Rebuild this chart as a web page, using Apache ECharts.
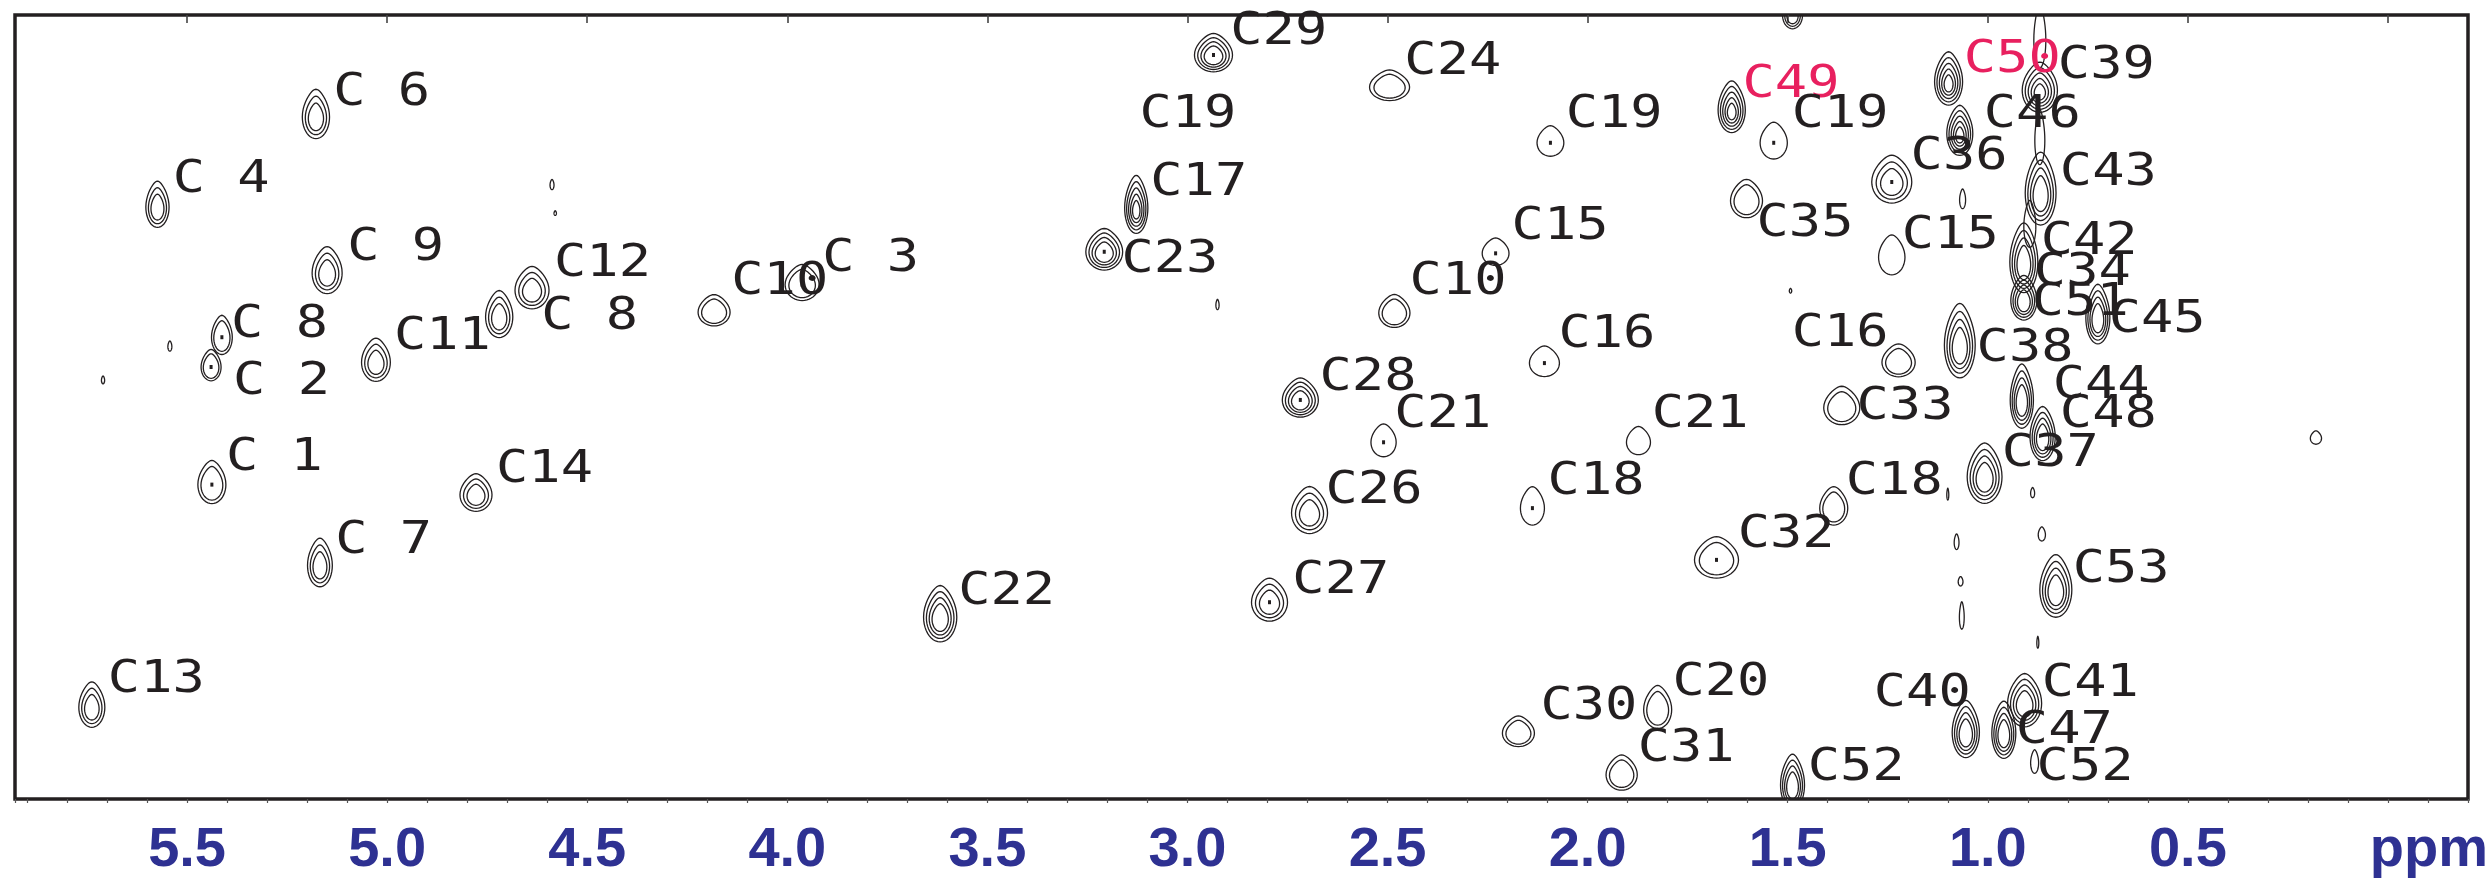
<!DOCTYPE html>
<html><head><meta charset="utf-8">
<script src="https://cdn.jsdelivr.net/npm/echarts@6/dist/echarts.min.js"></script>
<style>html,body{margin:0;padding:0;background:#fff}#c{width:2488px;height:880px}</style>
</head><body><div id="c"></div>
<script>
// ---- 1H (x, ppm) / 13C (y, relative F1 position, 0 = top) cross peaks ----
const peakPpm = [5.574,5.178,5.150,4.638,4.720,5.028,5.413,5.440,5.438,4.778,5.168,5.738,4.183,3.963,3.128,3.208,2.935,2.495,2.093,2.230,2.483,2.108,2.718,2.510,2.695,3.618,2.795,1.640,1.535,1.603,1.240,1.240,1.223,1.365,1.873,2.138,1.385,1.678,1.008,0.830,1.055,0.960,0.908,2.173,1.825,1.915,1.488,0.883,0.180,1.098,1.070,0.870,0.868,0.910,0.910,0.725,1.070,0.915,0.863,1.063,1.488,0.870,0.870,0.895,
  4.588,4.580,5.543,5.710,2.925,1.493,1.100,0.888,1.078,1.068,1.065,0.865,0.875];
const peakF1 = [24.5,13.0,32.9,35.1,38.5,44.3,41.1,44.9,59.9,61.2,70.2,88.3,37.9,34.4,24.6,30.2,5.1,9.2,16.3,30.4,38.0,44.4,49.1,54.5,63.5,76.8,74.9,12.1,16.3,23.7,21.3,30.9,44.3,50.1,54.5,62.9,62.9,69.5,58.9,73.3,91.5,91.6,87.8,91.6,88.6,96.9,98.2,95.4,54.0,8.5,15.1,9.6,22.7,31.5,36.4,38.6,42.1,49.1,53.8,23.6,0.0,3.2,16.0,27.0,
  21.7,25.3,42.3,46.6,37.0,35.2,61.2,61.0,67.3,72.3,76.8,66.3,80.1];
const peakLevels = [3,3,3,3,3,3,2,2,2,3,3,3,2,2,5,4,4,2,1,1,2,1,4,1,3,4,3,5,1,2,3,1,2,2,1,1,2,2,4,4,4,4,4,2,2,2,4,1,1,5,5,5,4,4,4,4,4,4,4,1,3,1,1,1,
  1,1,1,1,1,1,1,1,1,1,1,1,1];
const peakWidth = [0.058,0.068,0.075,0.085,0.068,0.072,0.052,0.050,0.070,0.080,0.062,0.065,0.080,0.085,0.058,0.092,0.095,0.100,0.067,0.067,0.078,0.075,0.090,0.063,0.090,0.083,0.090,0.068,0.068,0.080,0.100,0.066,0.083,0.090,0.060,0.060,0.070,0.110,0.087,0.080,0.068,0.060,0.085,0.080,0.070,0.078,0.060,0.020,0.028,0.070,0.065,0.088,0.077,0.070,0.065,0.060,0.077,0.058,0.063,0.015,0.050,0.030,0.025,0.030,
  0.010,0.006,0.010,0.008,0.008,0.006,0.005,0.010,0.012,0.012,0.012,0.018,0.005];
const peakHeight = [5.9,6.3,6.0,5.4,6.0,5.5,5.0,4.0,5.5,4.8,6.2,5.8,4.0,4.6,7.4,5.3,4.9,3.9,3.9,3.5,4.2,3.9,5.0,4.2,6.0,7.2,5.5,6.6,4.7,4.9,6.1,5.1,4.2,4.9,3.6,4.9,4.9,5.3,7.7,8.0,7.3,7.3,6.8,3.9,5.5,4.5,7.0,3.0,1.7,6.8,6.4,6.4,9.3,8.9,5.7,7.6,9.5,8.2,6.9,2.5,4.0,8.0,7.0,6.0,
  1.3,0.6,1.3,1.0,1.3,0.6,1.5,1.3,2.0,1.2,3.5,1.8,1.5];
const peakDot = [0,0,0,0,0,0,1,1,1,0,0,0,0,1,0,1,1,0,1,1,0,1,1,1,0,0,1,0,1,0,1,0,0,0,0,1,0,1,0,0,0,0,0,0,0,0,0,0,0,0,0,0,0,0,0,0,0,0,0,0,0,0,0,0,
  0,0,0,0,0,0,0,0,0,0,0,0,0];

// ---- assignment labels ----
const labelText = ['C 4','C 6','C 9','C12','C 8','C11','C 8','C 2','C 1','C14','C 7','C13','C10','C 3','C29','C24','C19','C17','C23','C15','C10','C19','C16','C28','C21','C26','C22','C27','C49','C19','C35','C50','C39','C46','C36','C43','C15','C42','C34','C51','C45','C16','C38','C33','C44','C48','C21','C37','C18','C18','C32','C53','C20','C30','C40','C41','C47','C31','C52','C52'];
const labelPpm = [5.536,5.135,5.100,4.583,4.615,4.983,5.390,5.385,5.403,4.728,5.130,5.698,4.140,3.913,2.893,2.458,3.120,3.093,3.165,2.190,2.445,2.055,2.073,2.670,2.483,2.655,3.573,2.738,1.613,1.490,1.578,1.060,0.825,1.010,1.193,0.820,1.215,0.868,0.885,0.890,0.698,1.490,1.028,1.328,0.838,0.820,1.840,0.965,2.100,1.355,1.625,0.788,1.788,2.118,1.285,0.865,0.930,1.875,1.450,0.878];
const labelF1 = [20.5,9.4,29.1,31.2,37.9,40.5,39.0,46.3,56.0,57.5,66.5,84.3,33.5,30.5,1.6,5.4,12.2,20.9,30.7,26.5,33.5,12.2,40.2,45.7,50.5,60.1,73.0,71.6,8.3,12.2,26.1,5.2,5.9,12.2,17.6,19.6,27.6,28.4,32.3,36.2,38.4,40.1,42.0,49.4,46.7,50.5,50.5,55.4,59.0,59.0,65.7,70.2,84.6,87.7,86.0,84.8,90.8,93.0,95.5,95.5];
const labelHighlight = ['C49','C50'];

// ---- axis ----
const xMin = -0.2, xMax = 5.93;

const INK = '#231F20', PINK = '#E8205F', BLUE = '#2E3192';

const peakData = peakPpm.map((p, i) => [p, peakF1[i], peakLevels[i], peakWidth[i], peakHeight[i], peakDot[i]]);
const labelData = labelPpm.map((p, i) => [p, labelF1[i]]);

function peakShape(cx, cy, a, b) {
  const pts = [];
  const n = 44;
  for (let i = 0; i < n; i++) {
    const t = i / n * Math.PI * 2, st = Math.sin(t), ct = Math.cos(t);
    let dx = a * ct, dy;
    if (st < 0) { dy = b * 1.12 * st; dx *= 1 - 0.3 * st * st; } else { dy = b * 0.88 * st; }
    pts.push([cx + dx, cy + dy]);
  }
  return pts;
}

const chart = echarts.init(document.getElementById('c'), null, {renderer: 'canvas'});
chart.setOption({
  animation: false,
  backgroundColor: '#fff',
  grid: {left: 15, right: 20, top: 15, bottom: 81, show: true, containLabel: false, outerBoundsMode: 'none',
    borderColor: INK, borderWidth: 3.5, backgroundColor: 'transparent'},
  xAxis: [{
    type: 'value', inverse: true, min: xMin, max: xMax, position: 'bottom',
    splitNumber: 12, minInterval: 0.5, maxInterval: 0.5,
    axisLine: {show: false}, splitLine: {show: false},
    axisTick: {show: true, length: 8, lineStyle: {color: '#444', width: 1.6}},
    axisLabel: {
      show: true, showMinLabel: false, showMaxLabel: false, margin: 24, hideOverlap: false,
      color: BLUE, fontFamily: '"Liberation Sans", Arial, sans-serif', fontWeight: 'bold', fontSize: 56,
      formatter: v => Math.abs(v) < 1e-9 ? '{p|ppm}' : v.toFixed(1),
      rich: {p: {color: BLUE, fontFamily: '"Liberation Sans", Arial, sans-serif', fontWeight: 'bold', fontSize: 56, padding: [0, 0, 0, 82]}}
    }
  }, {
    type: 'value', inverse: true, min: xMin, max: xMax, position: 'bottom', interval: 0.1,
    axisLine: {show: false}, splitLine: {show: false}, axisLabel: {show: false},
    axisTick: {show: true, length: 4, lineStyle: {color: '#555', width: 1.2}}
  }],
  yAxis: {type: 'value', min: 0, max: 100, inverse: true, show: false, splitLine: {show: false}},
  series: [{
    type: 'custom', coordinateSystem: 'cartesian2d', xAxisIndex: 0, yAxisIndex: 0, clip: true,
    encode: {x: 0, y: 1},
    data: peakData,
    renderItem: function (params, api) {
      const c = api.coord([api.value(0), api.value(1)]);
      const s = api.size([api.value(3), api.value(4)]);
      const L = api.value(2), dot = api.value(5);
      const a = Math.abs(s[0]) / 2, b = Math.abs(s[1]) / 2;
      const step = L >= 4 ? 0.17 : 0.22;
      const children = [];
      for (let k = 0; k < L; k++) {
        const f = 1 - k * step;
        const cy = c[1] + (1 - f) * b * 0.15;
        children.push({type: 'polygon', shape: {points: peakShape(c[0], cy, a * f, b * f)},
          style: {fill: 'none', stroke: INK, lineWidth: 1.3}});
      }
      if (dot) children.push({type: 'rect', shape: {x: c[0] - 1.5, y: c[1] - 2, width: 3, height: 4}, style: {fill: INK}});
      return {type: 'group', children: children};
    }
  }, {
    type: 'custom', coordinateSystem: 'cartesian2d', xAxisIndex: 0, yAxisIndex: 0, clip: false,
    encode: {x: 0, y: 1},
    data: labelData,
    renderItem: function (params, api) {
      const i = params.dataIndex;
      const c = api.coord([api.value(0), api.value(1)]);
      const t = labelText[i];
      return {type: 'text', x: c[0], y: c[1], scaleX: 1.22,
        style: {text: t, x: 0, y: 5, fill: labelHighlight.includes(t) ? PINK : INK,
          font: '44px "DejaVu Sans Mono", monospace', textAlign: 'left', textVerticalAlign: 'middle', align: 'left', verticalAlign: 'middle'}};
    }
  }]
});
</script></body></html>
